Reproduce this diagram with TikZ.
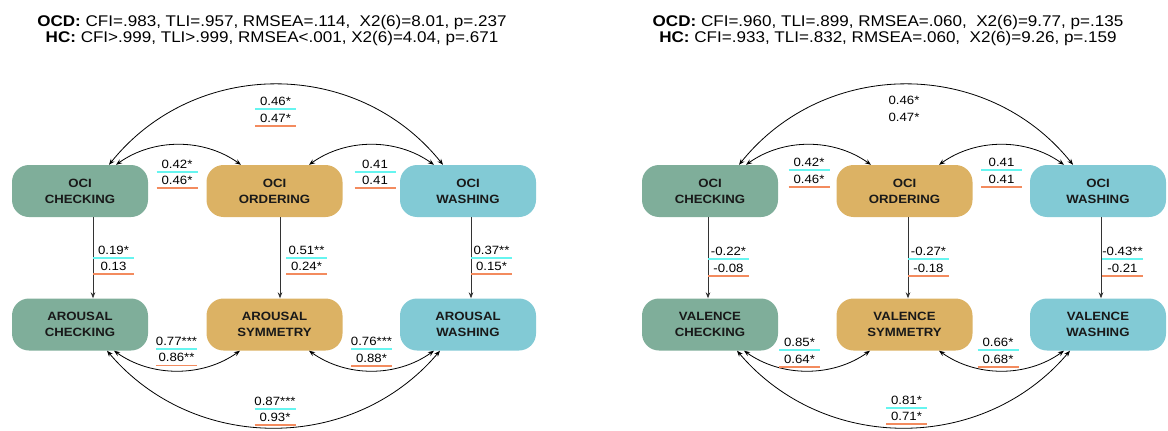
\documentclass[tikz,border=0pt]{standalone}
\usepackage{fontspec}
\setmainfont{Liberation Sans}[FakeStretch=1.1]
\usetikzlibrary{arrows.meta}

\definecolor{chkfill}{HTML}{7FAE9A}
\definecolor{ordfill}{HTML}{DCB264}
\definecolor{wshfill}{HTML}{82CAD5}
\definecolor{ulcyan}{HTML}{66F5F0}
\definecolor{ulorange}{HTML}{F38B5E}

\tikzset{
  box/.style={rounded corners=17pt, minimum width=136pt, minimum height=52pt,
    inner sep=0pt, align=center, text=black!90,
    font=\fontsize{12}{16}\selectfont\bfseries},
  ttl/.style={inner sep=0pt, anchor=base, font=\fontsize{15.5}{18}\selectfont},
  num/.style={inner sep=0pt, anchor=base, font=\fontsize{12}{14}\selectfont},
  ulc/.style={draw=ulcyan, line width=1.8pt},
  ulo/.style={draw=ulorange, line width=1.8pt},
  link/.style={draw=black, line width=0.8pt},
  path/.style={draw=black!80, line width=0.8pt},
}

% two stacked coefficients, each over a coloured rule
\newcommand{\pairlabel}[5]{%
  \node[num] (#1-a) at (#2,#3-3.5) {#4};
  \node[num] (#1-b) at (#2,#3+13.1) {#5};
  \draw[ulc] (#2-20.5,#3) -- (#2+20.5,#3);
  \draw[ulo] (#2-20.5,#3+16.6) -- (#2+20.5,#3+16.6);
}

\begin{document}
\begin{tikzpicture}[x=1pt, y=-1pt, >={Stealth[length=6pt,width=4.6pt]}]
\useasboundingbox (0,0) rectangle (1168,431);

% fit statistics
\node[ttl] (tl1) at (272,26.7) {\textbf{OCD:} CFI=.983, TLI=.957, RMSEA=.114,~ X2(6)=8.01, p=.237};
\node[ttl] (tl2) at (272,42.7) {\textbf{HC:} CFI>.999, TLI>.999, RMSEA<.001, X2(6)=4.04, p=.671};
\node[ttl] (tr1) at (888,26.7) {\textbf{OCD:} CFI=.960, TLI=.899, RMSEA=.060,~ X2(6)=9.77, p=.135};
\node[ttl] (tr2) at (888,42.7) {\textbf{HC:} CFI=.933, TLI=.832, RMSEA=.060,~ X2(6)=9.26, p=.159};

% arousal model
\node[box, fill=chkfill] (L1) at (80,191)    {OCI\\CHECKING};
\node[box, fill=ordfill] (L2) at (274.5,191) {OCI\\ORDERING};
\node[box, fill=wshfill] (L3) at (468,191)   {OCI\\WASHING};
\node[box, fill=chkfill] (L4) at (80,324.5)    {AROUSAL\\CHECKING};
\node[box, fill=ordfill] (L5) at (274.5,324.5) {AROUSAL\\SYMMETRY};
\node[box, fill=wshfill] (L6) at (468,324.5)   {AROUSAL\\WASHING};

% valence model
\node[box, fill=chkfill] (R1) at (710,191)    {OCI\\CHECKING};
\node[box, fill=ordfill] (R2) at (904.5,191)  {OCI\\ORDERING};
\node[box, fill=wshfill] (R3) at (1098,191)   {OCI\\WASHING};
\node[box, fill=chkfill] (R4) at (710,324.5)    {VALENCE\\CHECKING};
\node[box, fill=ordfill] (R5) at (904.5,324.5)  {VALENCE\\SYMMETRY};
\node[box, fill=wshfill] (R6) at (1098,324.5)   {VALENCE\\WASHING};

% covariances, same geometry in both panels
\foreach \p in {L,R} {
  \draw[link,<->] ([xshift=29pt]\p1.north) .. controls +(86,-107) and +(-86,-107) .. ([xshift=-25pt]\p3.north);
  \draw[link,<->] ([xshift=36pt]\p1.north) .. controls +(37.5,-26.7) and +(-37.5,-26.7) .. ([xshift=-33.5pt]\p2.north);
  \draw[link,<->] ([xshift=34.5pt]\p2.north) .. controls +(37.5,-26.7) and +(-37.5,-26.7) .. ([xshift=-34pt]\p3.north);
  \draw[link,<->] ([xshift=27pt]\p4.south) .. controls +(87,102.5) and +(-87,102.5) .. ([xshift=-28pt]\p6.south);
  \draw[link,<->] ([xshift=34pt]\p4.south) .. controls +(37.5,26.7) and +(-37.5,26.7) .. ([xshift=-34.5pt]\p5.south);
  \draw[link,<->] ([xshift=34.5pt]\p5.south) .. controls +(37.5,26.7) and +(-37.5,26.7) .. ([xshift=-34pt]\p6.south);
}

% regression paths
\draw[path,->] ([xshift=13pt]L1.south) -- ([xshift=13pt]L4.north);
\draw[path,->] ([xshift=5.5pt]L2.south) -- ([xshift=5.5pt]L5.north);
\draw[path,->] ([xshift=3pt]L3.south) -- ([xshift=3pt]L6.north);
\draw[path,->] ([xshift=-2pt]R1.south) -- ([xshift=-2pt]R4.north);
\draw[path,->] ([xshift=3.5pt]R2.south) -- ([xshift=3.5pt]R5.north);
\draw[path,->] ([xshift=3pt]R3.south) -- ([xshift=3pt]R6.north);

% coefficients: arousal model
\pairlabel{la}{275.5}{109}{0.46*}{0.47*}
\pairlabel{lb}{177}{171.7}{0.42*}{0.46*}
\pairlabel{lc}{375}{171.7}{0.41}{0.41}
\pairlabel{ld}{113.5}{257.7}{0.19*}{0.13}
\pairlabel{le}{306.5}{257.7}{0.51**}{0.24*}
\pairlabel{lf}{491.5}{257.7}{0.37**}{0.15*}
\pairlabel{lg}{176.5}{348.8}{0.77***}{0.86**}
\pairlabel{lh}{371.5}{349.3}{0.76***}{0.88*}
\pairlabel{li}{275}{408.7}{0.87***}{0.93*}

% coefficients: valence model
\node[num] (ra-a) at (904,104.5) {0.46*};
\node[num] (ra-b) at (904,121.5) {0.47*};
\pairlabel{rb}{809}{170}{0.42*}{0.46*}
\pairlabel{rc}{1001.5}{170}{0.41}{0.41}
\pairlabel{rd}{728.5}{259}{-0.22*}{-0.08}
\pairlabel{re}{928.5}{259}{-0.27*}{-0.18}
\pairlabel{rf}{1122.5}{259}{-0.43**}{-0.21}
\pairlabel{rg}{799.5}{350}{0.85*}{0.64*}
\pairlabel{rh}{998}{350}{0.66*}{0.68*}
\pairlabel{ri}{906.5}{407.7}{0.81*}{0.71*}
\end{tikzpicture}
\end{document}
